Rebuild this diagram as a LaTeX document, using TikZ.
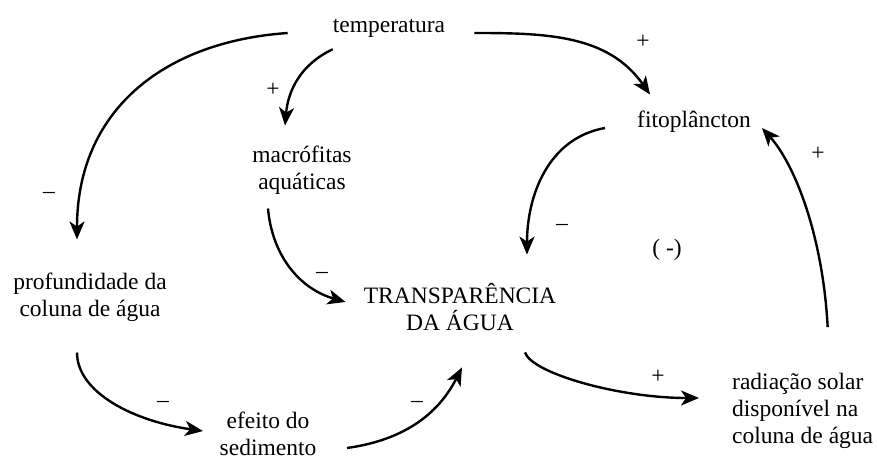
\documentclass[tikz,border=0pt]{standalone}
\usepackage{fontspec}
\setmainfont{Liberation Serif}
\usetikzlibrary{arrows.meta}

\tikzset{
  txt/.style={font=\fontsize{23.5}{27}\selectfont, inner sep=0pt, align=center},
  sinal/.style={font=\fontsize{23.5}{27}\selectfont, inner sep=0pt},
  seta/.style={-{Stealth[length=18pt,width=15pt,inset=5pt]}, line width=2.4pt},
}

\begin{document}
\begin{tikzpicture}[x=1pt, y=1pt]
\useasboundingbox (0,0) rectangle (877,461);

 %variaveis
 \node[txt] (temp) at (389,433) {temperatura};
 \node[txt] (macro) at (302,291) {macrófitas\\aquáticas};
 \node[txt] (fito) at (694,339) {fitoplâncton};
 \node[txt] (prof) at (90,164) {profundidade da\\coluna de água};
 \node[txt] (transp) at (460,154) {TRANSPARÊNCIA\\DA ÁGUA};
 \node[txt] (efeito) at (268,27.5) {efeito do\\sedimento};
 \node[txt, align=left, anchor=west] (rad) at (732,50) {radiação solar\\disponível na\\coluna de água};
 \node[sinal] (laco) at (667,211) {( -)};

 %sinais
 \node[sinal] (sTempMacro) at (273,371) {+};
 \node[sinal] (sTempProf) at (49,266) {--};
 \node[sinal] (sTempFito) at (643,419) {+};
 \node[sinal] (sRadFito) at (818,307) {+};
 \node[sinal] (sFitoTransp) at (562,234) {--};
 \node[sinal] (sMacroTransp) at (322,186) {--};
 \node[sinal] (sProfEfeito) at (163,57) {--};
 \node[sinal] (sEfeitoTransp) at (417,57) {--};
 \node[sinal] (sTranspRad) at (658,84) {+};

 %setas
 \draw[seta] ([shift={(-45,-5)}]temp.west) to[out=184, in=90, looseness=1.1] ([shift={(-13,33)}]prof.north);
 \draw[seta] ([shift={(0,-12)}]temp.south west) to[out=205, in=85] ([shift={(-17,20)}]macro.north);
 \draw[seta] ([shift={(29,-5)}]temp.east) to[out=0, in=125] ([shift={(-44,16.5)}]fito.north);
 \draw[seta] ([shift={(-32,-6)}]fito.west) to[out=190, in=90] ([shift={(67,28.5)}]transp.north);
 \draw[seta] ([shift={(-34,-14)}]macro.south) to[out=275, in=164] ([shift={(-18,5)}]transp.west);
 \draw[seta] ([shift={(-13,-31)}]prof.south) to[out=270, in=172, out distance=40pt, in distance=70pt] ([shift={(-16.5,2.5)}]efeito.west);
 \draw[seta] ([shift={(30.5,-14.5)}]efeito.east) to[out=8, in=243] ([shift={(2,-36.5)}]transp.south);
 \draw[seta] ([shift={(65,-21.5)}]transp.south) to[out=288, in=180, out distance=22pt, in distance=80pt] ([shift={(-33,13)}]rad.west);
 \draw[seta] ([shift={(25,46)}]rad.north) to[out=93, in=312, out distance=90pt, in distance=50pt] ([shift={(11,-6)}]fito.east);
\end{tikzpicture}
\end{document}
